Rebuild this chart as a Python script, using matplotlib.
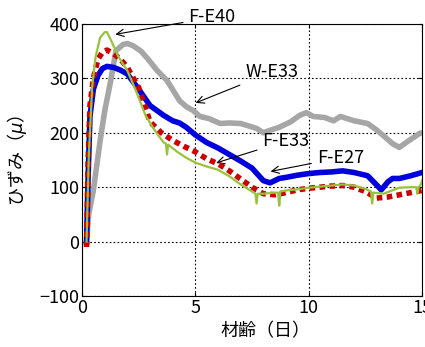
import matplotlib
matplotlib.use('Agg')
import matplotlib.pyplot as plt

plt.rcParams['font.family'] = ['Noto Sans CJK JP', 'DejaVu Sans']

# F-E33 (赤点線)
fe33_x = [0.2, 0.27, 0.35, 0.5, 0.7, 0.9, 1.1, 1.4, 1.7, 2.0, 2.5, 3.0, 3.5, 4.0, 4.5, 5.0,
          5.5, 6.0, 6.5, 7.0, 7.5, 8.0, 8.5, 9.0, 9.5, 10.0, 10.5, 11.0, 11.5, 12.0, 12.5,
          13.0, 13.5, 14.0, 14.5, 15.0]
fe33_y = [-10, 150, 250, 300, 335, 348, 352, 345, 335, 320, 283, 220, 200, 186, 175, 165,
          152, 143, 130, 115, 100, 88, 86, 90, 95, 98, 100, 102, 103, 100, 92,
          80, 82, 86, 90, 94]

# F-E27 (青)
fe27_x = [0.2, 0.27, 0.35, 0.5, 0.7, 0.9, 1.1, 1.4, 1.7, 2.0, 2.5, 3.0, 3.3, 3.6, 4.0, 4.3,
          4.6, 5.0, 5.5, 6.0, 6.5, 7.0, 7.5, 8.0, 8.3, 8.7, 9.0, 9.5, 10.0, 10.5, 11.0,
          11.5, 12.0, 12.6, 13.0, 13.2, 13.5, 13.7, 14.0, 14.5, 15.0]
fe27_y = [0, 120, 230, 280, 305, 318, 322, 320, 315, 308, 280, 250, 241, 232, 222, 218,
          210, 196, 182, 172, 160, 148, 135, 112, 108, 116, 118, 122, 125, 127, 128,
          130, 127, 121, 104, 95, 110, 116, 116, 121, 127]

# F-E40 (黄緑)
fe40_x = [0.2, 0.3, 0.45, 0.6, 0.8, 1.0, 1.1, 1.3, 1.6, 2.0, 2.4, 2.8, 3.2, 3.6, 3.7, 3.75,
          3.8, 4.2, 4.6, 5.0, 5.5, 6.0, 6.5, 7.0, 7.5, 7.65, 7.7, 7.75, 8.0, 8.5, 8.65,
          8.7, 8.75, 9.0, 9.5, 10.0, 10.5, 11.0, 11.5, 12.0, 12.5, 12.75, 12.8, 12.85,
          13.3, 14.0, 14.5, 14.75, 14.8, 14.85, 14.95, 15.0]
fe40_y = [0, 160, 285, 340, 375, 385, 385, 368, 340, 314, 275, 232, 205, 182, 180, 160,
          178, 165, 154, 145, 138, 132, 120, 105, 92, 88, 70, 88, 88, 90, 90,
          66, 92, 94, 96, 99, 101, 103, 105, 103, 97, 92, 70, 90,
          88, 99, 100, 100, 88, 100, 105, 112]

# W-E33 (灰色)
we33_x = [0.2, 0.3, 0.5, 0.8, 1.0, 1.24, 1.5, 1.8, 2.0, 2.25, 2.6, 2.9, 3.3, 3.75, 4.3, 4.6,
          4.9, 5.2, 5.6, 6.1, 6.5, 7.0, 7.4, 7.7, 8.0, 8.4, 8.7, 9.2, 9.6, 9.9, 10.2,
          10.7, 11.1, 11.4, 11.7, 12.0, 12.6, 13.0, 13.4, 13.7, 14.0, 14.4, 14.9, 15.0]
we33_y = [0, 51, 94, 186, 240, 290, 351, 362, 364, 360, 350, 336, 315, 296, 259, 248,
          241, 230, 226, 217, 218, 217, 212, 208, 200, 206, 210, 220, 232, 237, 230,
          228, 222, 230, 226, 222, 217, 205, 191, 180, 173, 185, 199, 200]

fig = plt.figure(figsize=(4.25, 3.47), dpi=100)
ax = fig.add_axes([0.193, 0.147, 0.8, 0.784])

ax.plot(we33_x, we33_y, color='#a6a6a6', linewidth=4, zorder=2)
ax.plot(fe27_x, fe27_y, color='#0000dd', linewidth=4, zorder=3)
ax.plot(fe33_x, fe33_y, color='#cc0000', linewidth=4, linestyle=(0, (1.0, 0.8)), zorder=4)
ax.plot(fe40_x, fe40_y, color='#99c23a', linewidth=1.6, zorder=5)

ax.set_xlim(0, 15)
ax.set_ylim(-100, 400)
ax.set_xticks([0, 5, 10, 15])
ax.set_yticks([-100, 0, 100, 200, 300, 400])
ax.set_yticklabels(['\u2212100', '0', '100', '200', '300', '400'])
ax.tick_params(direction='in', top=True, right=True, labelsize=13, length=3, pad=2)
ax.grid(True, color='black', linestyle=(0, (1.5, 2)), linewidth=0.8)

ax.set_xlabel('材齢（日）', fontsize=13)
ax.xaxis.set_label_coords(0.54, -0.095)
ax.set_ylabel('ひずみ（$\\mu$）', fontsize=13)
ax.yaxis.set_label_coords(-0.155, 0.5)

arrow = dict(arrowstyle='->', color='black', linewidth=0.8)
ax.annotate('F-E40', xy=(1.35, 380), xytext=(4.7, 412), fontsize=13,
            ha='left', va='center', arrowprops=arrow, annotation_clip=False)
ax.annotate('W-E33', xy=(4.9, 253), xytext=(7.2, 311), fontsize=13,
            ha='left', va='center', arrowprops=arrow)
ax.annotate('F-E33', xy=(5.8, 143), xytext=(9.0, 185), fontsize=13,
            ha='center', va='center', arrowprops=arrow)
ax.annotate('F-E27', xy=(8.2, 128), xytext=(11.4, 154), fontsize=13,
            ha='center', va='center', arrowprops=arrow)

fig.savefig('out.png', dpi=100)
